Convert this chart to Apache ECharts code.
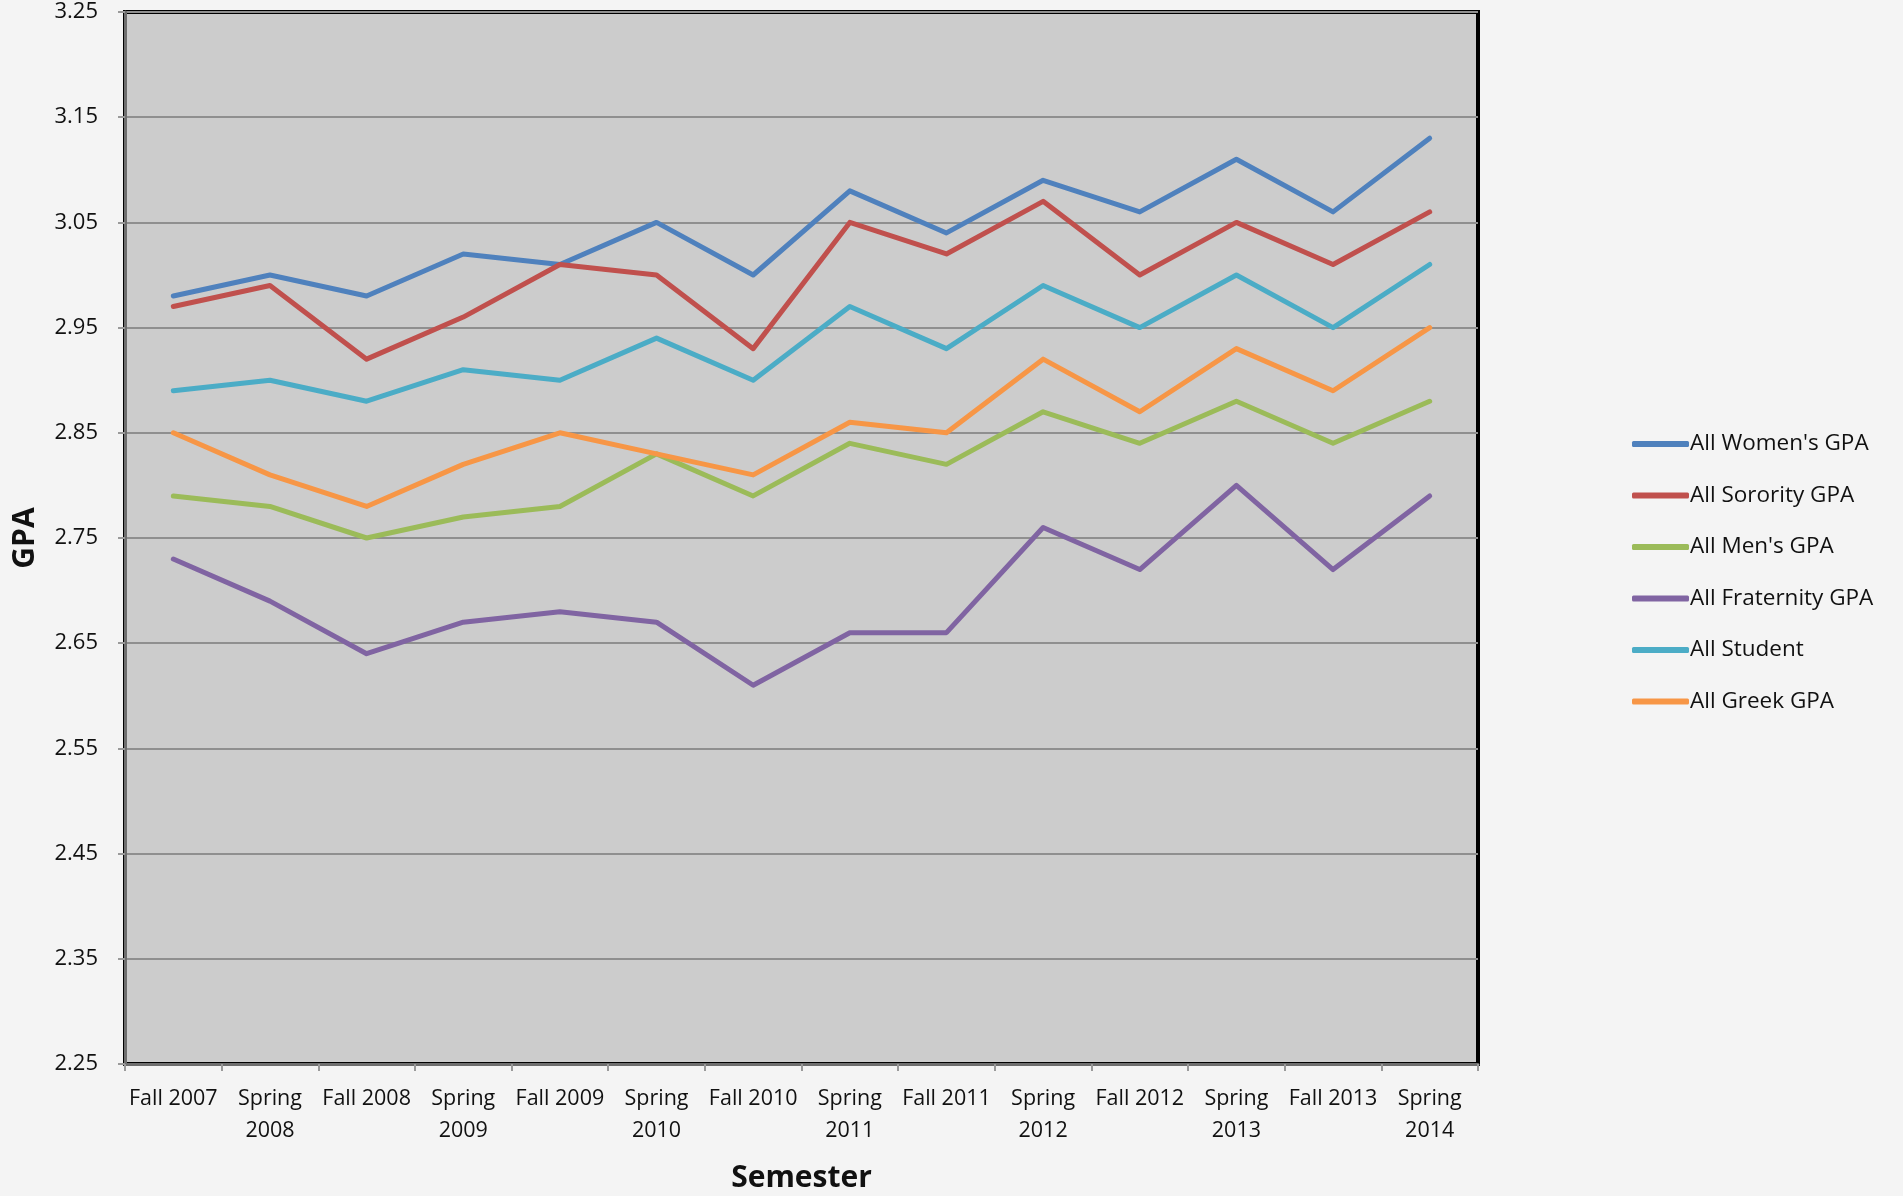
<!DOCTYPE html>
<html><head><meta charset="utf-8">
<script src="https://cdn.jsdelivr.net/npm/echarts@6/dist/echarts.min.js"></script>
<style>html,body{margin:0;padding:0;background:#f4f4f4;}#c{width:1903px;height:1196px;}</style>
</head><body><div id="c"></div>
<script>
const categories = ["Fall 2007","Spring\n2008","Fall 2008","Spring\n2009","Fall 2009","Spring\n2010","Fall 2010","Spring\n2011","Fall 2011","Spring\n2012","Fall 2012","Spring\n2013","Fall 2013","Spring\n2014"];
const womenGPA =      [2.98,3.00,2.98,3.02,3.01,3.05,3.00,3.08,3.04,3.09,3.06,3.11,3.06,3.13];
const sororityGPA =   [2.97,2.99,2.92,2.96,3.01,3.00,2.93,3.05,3.02,3.07,3.00,3.05,3.01,3.06];
const menGPA =        [2.79,2.78,2.75,2.77,2.78,2.83,2.79,2.84,2.82,2.87,2.84,2.88,2.84,2.88];
const fraternityGPA = [2.73,2.69,2.64,2.67,2.68,2.67,2.61,2.66,2.66,2.76,2.72,2.80,2.72,2.79];
const studentGPA =    [2.89,2.90,2.88,2.91,2.90,2.94,2.90,2.97,2.93,2.99,2.95,3.00,2.95,3.01];
const greekGPA =      [2.85,2.81,2.78,2.82,2.85,2.83,2.81,2.86,2.85,2.92,2.87,2.93,2.89,2.95];
const seriesNames = ["All Women's GPA","All Sorority GPA","All Men's GPA","All Fraternity GPA","All Student","All Greek GPA"];
const seriesData = [womenGPA, sororityGPA, menGPA, fraternityGPA, studentGPA, greekGPA];
const colors = ['#4F81BD','#C0504D','#9BBB59','#8064A2','#4BACC6','#F79646'];
const yTicks = {min: 2.25, max: 3.25, interval: 0.1};

const font = 'Open Sans';
const chart = echarts.init(document.getElementById('c'));
chart.setOption({
  backgroundColor: '#f4f4f4',
  animation: false,
  color: colors,
  grid: {left: 125, right: 425, top: 12, bottom: 132, outerBoundsMode: 'none', containLabel: false, show: true, backgroundColor: '#cccccc', borderColor: '#000', borderWidth: 4},
  legend: {
    orient: 'vertical', left: 1627, top: 427, itemGap: 27.5, itemWidth: 57, itemHeight: 6,
    icon: 'roundRect',
    textStyle: {fontFamily: font, fontSize: 22.5, lineHeight: 24, color: '#111', padding: [0,0,0,-4]},
    data: seriesNames
  },
  xAxis: {
    type: 'category', data: categories, boundaryGap: true,
    name: 'Semester', nameLocation: 'middle', nameGap: 99,
    nameTextStyle: {fontFamily: font, fontSize: 30, fontWeight: 'bold', color: '#111'},
    axisLine: {lineStyle: {color: '#6e6e6e', width: 3}},
    axisTick: {show: true, length: 7, lineStyle: {color: '#9a9a9a', width: 2}},
    axisLabel: {fontFamily: font, fontSize: 21.5, color: '#111', margin: 19, lineHeight: 32, interval: 0}
  },
  yAxis: {
    type: 'value', min: yTicks.min, max: yTicks.max, interval: yTicks.interval,
    name: 'GPA', nameLocation: 'middle', nameGap: 85, nameRotate: 90,
    nameTextStyle: {fontFamily: font, fontSize: 30, fontWeight: 'bold', color: '#111'},
    axisLine: {show: true, lineStyle: {color: '#6e6e6e', width: 3}},
    axisTick: {show: true, length: 7, lineStyle: {color: '#9a9a9a', width: 2}},
    axisLabel: {fontFamily: font, fontSize: 22, color: '#111', margin: 27, formatter: v => v.toFixed(2)},
    splitLine: {lineStyle: {color: '#8f8f8f', width: 2}}
  },
  series: seriesNames.map((n, i) => ({
    name: n, type: 'line', data: seriesData[i], symbol: 'none',
    lineStyle: {width: 5, color: colors[i], cap: 'round', join: 'round'}
  }))
});
</script></body></html>
